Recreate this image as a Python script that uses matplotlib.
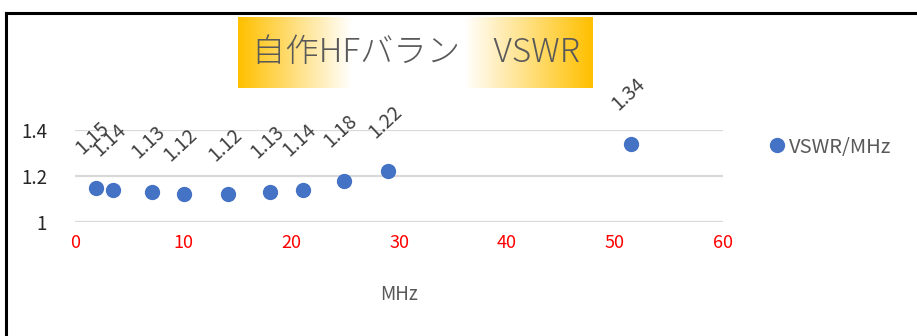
import numpy as np
import matplotlib
matplotlib.use("Agg")
import matplotlib.pyplot as plt
from matplotlib.colors import LinearSegmentedColormap
from matplotlib.lines import Line2D

plt.rcParams['font.family'] = ['Noto Sans CJK JP', 'DejaVu Sans']

# Measured balun VSWR per frequency (MHz)
freq_mhz = [1.9, 3.5, 7.1, 10.1, 14.2, 18.1, 21.1, 24.9, 29.0, 51.5]
vswr = [1.15, 1.14, 1.13, 1.12, 1.12, 1.13, 1.14, 1.18, 1.22, 1.34]
x_ticks = [0, 10, 20, 30, 40, 50, 60]
y_ticks = [1, 1.2, 1.4]
title_text = "自作HFバラン　VSWR"
series_name = "VSWR/MHz"
x_label = "MHz"

fig = plt.figure(figsize=(9.17, 3.36), dpi=100)
W, H = 917, 336

ax = fig.add_axes([75 / W, 1 - 222 / H, (723 - 75) / W, (222 - 130) / H])
ax.plot(freq_mhz, vswr, linestyle='none', marker='o', markersize=10,
        color='#4472C4', label=series_name, zorder=3, clip_on=False)
ax.set_xlim(0, 60)
ax.set_ylim(1, 1.4)
ax.set_xticks(x_ticks)
ax.set_yticks(y_ticks)
ax.set_yticklabels([f"{t:g}" for t in y_ticks])
ax.tick_params(axis='x', colors='red', labelsize=13, length=0, pad=9)
ax.tick_params(axis='y', colors='#262626', labelsize=13.5, length=0, pad=20)
ax.grid(axis='y', color='#d9d9d9', linewidth=1.6)
ax.set_axisbelow(True)
for s in ax.spines.values():
    s.set_visible(False)
ax.set_xlabel(x_label, color='#595959', fontsize=13.5, labelpad=23)

# Value labels above each point, slanted
for fx, v in zip(freq_mhz, vswr):
    ax.annotate(f"{v:.2f}", (fx, v), xytext=(-10, 29), textcoords='offset pixels',
                rotation=43, rotation_mode='anchor', ha='left', va='bottom',
                fontsize=14, color='#404040', annotation_clip=False)

# Legend to the right of the plot
leg = fig.legend(handles=[Line2D([], [], linestyle='none', marker='o', markersize=10,
                                 color='#4472C4')],
                 labels=[series_name], loc='center left',
                 bbox_to_anchor=(757 / W, 1 - 147 / H), frameon=False,
                 handletextpad=0.0, handlelength=1.2, fontsize=14.5, borderaxespad=0)
for t in leg.get_texts():
    t.set_color('#595959')

# Title box with gold-white-gold gradient
tax = fig.add_axes([238 / W, 1 - 88 / H, (593 - 238) / W, (88 - 17) / H])
cmap = LinearSegmentedColormap.from_list(
    'goldfade', [(0.0, '#FFC000'), (0.32, '#FFFFFF'), (0.64, '#FFFFFF'), (1.0, '#FFC000')])
grad = np.linspace(0, 1, 256).reshape(1, -1)
tax.imshow(grad, aspect='auto', cmap=cmap, extent=[0, 1, 0, 1])
tax.set_xlim(0, 1)
tax.set_ylim(0, 1)
tax.axis('off')
tax.text(0.5, 0.5, title_text, ha='center', va='center', fontsize=24,
         color='#595959', fontweight='light', transform=tax.transAxes)

# Chart frame lines (top and left)
fig.add_artist(Line2D([6 / W, 1], [1 - 13 / H, 1 - 13 / H], color='black',
                      linewidth=2.2, transform=fig.transFigure))
fig.add_artist(Line2D([6 / W, 6 / W], [0, 1 - 13 / H], color='black',
                      linewidth=2.2, transform=fig.transFigure))

fig.savefig("out.png", dpi=100)
